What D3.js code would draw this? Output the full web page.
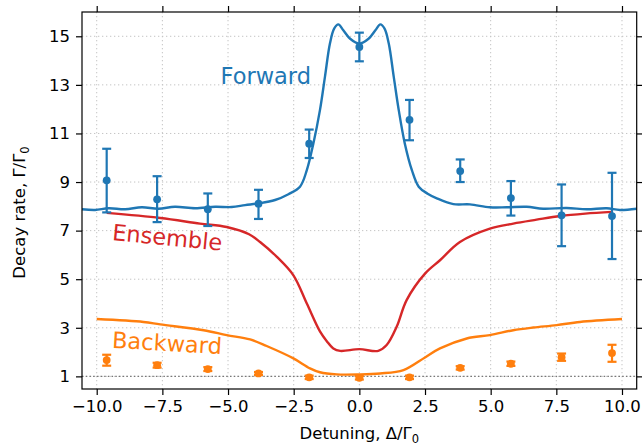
<!DOCTYPE html>
<html>
<head>
<meta charset="utf-8">
<script src="https://cdn.jsdelivr.net/npm/d3@7"></script>
<style>
  body { margin: 0; background: #fff; }
  svg text { font-family: "DejaVu Sans", sans-serif; }
</style>
</head>
<body>
<div id="chart"></div>
<script>
// measured points (detuning in units of Gamma_0)
var pointX = [-9.62, -7.70, -5.77, -3.84, -1.91, 0, 1.91, 3.84, 5.77, 7.70, 9.62];

var fwdVal = [9.07, 8.29, 7.88, 8.11, 10.58, 14.56, 11.56, 9.45, 8.34, 7.63, 7.60];
var fwdLo  = [7.75, 7.35, 7.19, 7.48, 9.99, 13.97, 10.72, 9.00, 7.62, 6.36, 5.83];
var fwdHi  = [10.37, 9.24, 8.53, 8.68, 11.16, 15.15, 12.38, 9.93, 9.04, 8.90, 9.38];

var bwdVal = [1.67, 1.46, 1.30, 1.12, 0.96, 0.94, 0.96, 1.35, 1.52, 1.79, 1.96];
var bwdLo  = [1.44, 1.36, 1.22, 1.06, 0.89, 0.87, 0.89, 1.28, 1.43, 1.64, 1.60];
var bwdHi  = [1.89, 1.56, 1.38, 1.18, 1.03, 1.01, 1.03, 1.42, 1.61, 1.94, 2.30];

// theory curves
var fwdCurveX = [-10.56, -10.06, -9.55, -8.92, -8.28, -7.65, -7.02, -6.25, -5.49, -4.86, -4.35, -3.84, -3.21, -2.70,
  -2.26, -2.0, -1.75, -1.5, -1.31, -1.12, -0.96, -0.8, -0.61, -0.35, 0,
  0.35, 0.61, 0.8, 0.96, 1.12, 1.31, 1.5, 1.73, 2.0, 2.26, 2.6, 2.95, 3.58, 4.21, 4.97, 5.61, 6.37, 7.0, 7.89, 8.66, 9.42, 9.92, 10.56];
var fwdCurveY = [7.88, 7.85, 7.92, 7.88, 7.96, 7.90, 7.98, 7.92, 7.98, 7.97, 8.05, 8.12, 8.26, 8.50,
  8.81, 9.49, 10.59, 11.96, 13.33, 14.70, 15.32, 15.49, 15.25, 14.90, 14.70,
  14.90, 15.25, 15.49, 15.32, 14.70, 13.33, 11.96, 10.59, 9.49, 8.81, 8.52, 8.33, 8.09, 8.08, 7.96, 7.96, 7.98, 7.90, 7.93, 7.88, 7.92, 7.85, 7.90];

var ensX = [-9.62, -7.58, -6.07, -5.05, -4.2, -3.78, -3.14, -2.51, -2.0, -1.5, -1.24, -0.99, -0.73, 0,
  0.72, 1.04, 1.42, 1.8, 2.5, 3.07, 3.83, 4.97, 5.86, 6.75, 7.64, 8.6, 9.62];
var ensY = [7.73, 7.52, 7.29, 7.15, 6.85, 6.53, 5.92, 5.16, 4.0, 2.85, 2.45, 2.15, 2.05, 2.12,
  2.05, 2.29, 3.04, 4.14, 5.23, 5.78, 6.53, 7.08, 7.29, 7.45, 7.60, 7.70, 7.77];

var bwdCurveX = [-10, -8.22, -7.58, -5.93, -5.05, -4.16, -3.53, -2.51, -1.88, -1.5, -0.86, 0,
  0.79, 1.68, 2.5, 3.07, 4.09, 4.97, 5.86, 6.62, 7.51, 8.4, 10];
var bwdCurveY = [3.36, 3.24, 3.14, 2.90, 2.70, 2.52, 2.25, 1.74, 1.33, 1.17, 1.08, 1.08,
  1.12, 1.26, 1.78, 2.15, 2.56, 2.70, 2.90, 3.01, 3.11, 3.24, 3.36];

var xTicks = [-10, -7.5, -5, -2.5, 0, 2.5, 5, 7.5, 10];
var yTicks = [1, 3, 5, 7, 9, 11, 13, 15];

var blue = '#1f77b4';
var orange = '#ff7f0e';
var red = '#d62728';

var W = 642, H = 447;
var margin = {left: 82, top: 12, right: 5.3, bottom: 58};
var w = W - margin.left - margin.right;
var h = H - margin.top - margin.bottom;

var x = d3.scaleLinear().domain([-10.56, 10.56]).range([0, w]);
var y = d3.scaleLinear().domain([0.48, 16]).range([h, 0]);

var svg = d3.select('#chart')
  .append('svg')
  .attr('width', W)
  .attr('height', H);

var g = svg.append('g')
  .attr('transform', 'translate(' + margin.left + ',' + margin.top + ')');

// grid
g.selectAll('.vgrid')
  .data(xTicks)
  .enter().append('line')
  .attr('x1', function(d) { return x(d); })
  .attr('x2', function(d) { return x(d); })
  .attr('y1', 0).attr('y2', h)
  .attr('stroke', '#c4c4c4').attr('stroke-width', 1)
  .attr('stroke-dasharray', '1.3,2.7');

g.selectAll('.hgrid')
  .data(yTicks)
  .enter().append('line')
  .attr('y1', function(d) { return y(d); })
  .attr('y2', function(d) { return y(d); })
  .attr('x1', 0).attr('x2', w)
  .attr('stroke', '#c4c4c4').attr('stroke-width', 1)
  .attr('stroke-dasharray', '1.3,2.7');

// reference line at 1
g.append('line')
  .attr('x1', 0).attr('x2', w)
  .attr('y1', y(1)).attr('y2', y(1))
  .attr('stroke', '#777').attr('stroke-width', 1.4)
  .attr('stroke-dasharray', '1.5,2.2');

function zip(xs, ys) {
  return xs.map(function(v, i) { return [v, ys[i]]; });
}

var line = d3.line()
  .x(function(d) { return x(d[0]); })
  .y(function(d) { return y(d[1]); })
  .curve(d3.curveCatmullRom.alpha(0.5));

g.append('path')
  .datum(zip(bwdCurveX, bwdCurveY))
  .attr('d', line)
  .attr('fill', 'none').attr('stroke', orange).attr('stroke-width', 2.4);

g.append('path')
  .datum(zip(ensX, ensY))
  .attr('d', line)
  .attr('fill', 'none').attr('stroke', red).attr('stroke-width', 2.4);

g.append('path')
  .datum(zip(fwdCurveX, fwdCurveY))
  .attr('d', line)
  .attr('fill', 'none').attr('stroke', blue).attr('stroke-width', 2.4);

// error bars
function errorbars(vals, lo, hi, color) {
  var data = pointX.map(function(v, i) { return {x: v, y: vals[i], lo: lo[i], hi: hi[i]}; });
  var eg = g.append('g');
  var cap = 4.5;
  eg.selectAll('.stem').data(data).enter().append('line')
    .attr('x1', function(d) { return x(d.x); })
    .attr('x2', function(d) { return x(d.x); })
    .attr('y1', function(d) { return y(d.lo); })
    .attr('y2', function(d) { return y(d.hi); })
    .attr('stroke', color).attr('stroke-width', 2.2);
  eg.selectAll('.capHi').data(data).enter().append('line')
    .attr('x1', function(d) { return x(d.x) - cap; })
    .attr('x2', function(d) { return x(d.x) + cap; })
    .attr('y1', function(d) { return y(d.hi); })
    .attr('y2', function(d) { return y(d.hi); })
    .attr('stroke', color).attr('stroke-width', 2.2);
  eg.selectAll('.capLo').data(data).enter().append('line')
    .attr('x1', function(d) { return x(d.x) - cap; })
    .attr('x2', function(d) { return x(d.x) + cap; })
    .attr('y1', function(d) { return y(d.lo); })
    .attr('y2', function(d) { return y(d.lo); })
    .attr('stroke', color).attr('stroke-width', 2.2);
  eg.selectAll('circle').data(data).enter().append('circle')
    .attr('cx', function(d) { return x(d.x); })
    .attr('cy', function(d) { return y(d.y); })
    .attr('r', 3.9)
    .attr('fill', color);
}
errorbars(fwdVal, fwdLo, fwdHi, blue);
errorbars(bwdVal, bwdLo, bwdHi, orange);

// axes
var fmt = d3.format('.1f');
var xAxis = g.append('g')
  .attr('transform', 'translate(0,' + h + ')')
  .call(d3.axisBottom(x).tickValues(xTicks).tickFormat(fmt).tickSizeOuter(0).tickSize(6).tickPadding(5));
var yAxis = g.append('g')
  .call(d3.axisLeft(y).tickValues(yTicks).tickFormat(d3.format('d')).tickSizeOuter(0).tickSize(6).tickPadding(6));
g.append('g')
  .call(d3.axisTop(x).tickValues(xTicks).tickFormat('').tickSizeOuter(0).tickSize(6));
g.append('g')
  .attr('transform', 'translate(' + w + ',0)')
  .call(d3.axisRight(y).tickValues(yTicks).tickFormat('').tickSizeOuter(0).tickSize(6));

g.selectAll('.domain').remove();
g.selectAll('.tick line').attr('stroke', '#000').attr('stroke-width', 1.2);
xAxis.selectAll('text').attr('font-size', 16.5).attr('fill', '#000')
  .attr('font-family', '"DejaVu Sans", sans-serif');
yAxis.selectAll('text').attr('font-size', 16.5).attr('fill', '#000')
  .attr('font-family', '"DejaVu Sans", sans-serif');

g.append('rect')
  .attr('x', 0).attr('y', 0).attr('width', w).attr('height', h)
  .attr('fill', 'none').attr('stroke', '#000').attr('stroke-width', 1.2);

// axis labels
svg.append('text')
  .attr('x', margin.left + x(0))
  .attr('y', 439)
  .attr('text-anchor', 'middle')
  .attr('font-size', 16.5)
  .html('Detuning, Δ/Γ<tspan font-size="11.5" dy="4">0</tspan>');

svg.append('text')
  .attr('transform', 'translate(25,' + (margin.top + h / 2 + 12) + ') rotate(-90)')
  .attr('text-anchor', 'middle')
  .attr('font-size', 16.5)
  .html('Decay rate, Γ/Γ<tspan font-size="11.5" dy="4">0</tspan>');

// curve labels
svg.append('text')
  .attr('x', 220.5).attr('y', 84.3)
  .attr('font-size', 22.5).attr('fill', blue)
  .text('Forward');

svg.append('text')
  .attr('transform', 'translate(111.7,240) rotate(5.5)')
  .attr('font-size', 22.5).attr('fill', red)
  .text('Ensemble');

svg.append('text')
  .attr('transform', 'translate(111.7,347.7) rotate(3.4)')
  .attr('font-size', 22.5).attr('fill', orange)
  .text('Backward');
</script>
</body>
</html>
